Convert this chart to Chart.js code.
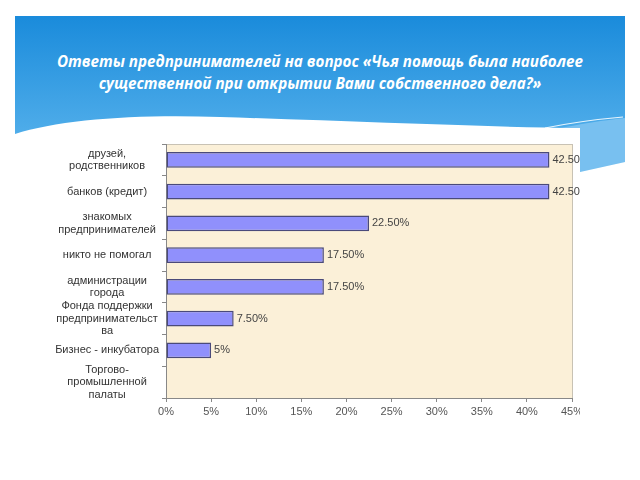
<!DOCTYPE html>
<html>
<head>
<meta charset="utf-8">
<script src="https://cdn.jsdelivr.net/npm/chart.js@4/dist/chart.umd.min.js"></script>
<style>
  html, body { margin: 0; padding: 0; background: #fff; }
  #page { position: relative; width: 640px; height: 480px; overflow: hidden; }
  #bg { position: absolute; left: 0; top: 0; }
  #title {
    position: absolute; left: 20px; top: 50px; width: 600px;
    text-align: center; color: #fff;
    font-family: "Open Sans", sans-serif; font-style: italic; font-weight: bold;
    font-size: 15.2px; line-height: 22px;
  }
  #box { position: absolute; left: 55px; top: 128px; width: 525px; height: 292px; background: #fff; }
</style>
</head>
<body>
<div id="page">
  <svg id="bg" width="640" height="480">
    <defs>
      <linearGradient id="sky" x1="0" y1="0" x2="0" y2="1">
        <stop offset="0" stop-color="#1a8bdb"/>
        <stop offset="1" stop-color="#62b9ef"/>
      </linearGradient>
    </defs>
    <rect x="15" y="16" width="610" height="160" fill="url(#sky)"/>
    <path d="M550 130 C 580 124, 605 120, 625 118 L 625 162 L 580 172 Z" fill="#78c0f0"/>
    <path d="M545 128 C 575 122, 600 119, 623 117" stroke="#e8f5fd" stroke-width="1.2" fill="none"/>
    <path d="M15 134 C 60 119, 140 114, 220 117 C 350 121, 480 127, 580 128 L 580 480 L 15 480 Z" fill="#ffffff"/>
    <path d="M580 172 L 625 162 L 625 480 L 580 480 Z" fill="#ffffff"/>
  </svg>
  <div id="title">Ответы предпринимателей на вопрос «Чья помощь была наиболее<br>существенной при открытии Вами собственного дела?»</div>
  <div id="box"><canvas id="chart" width="525" height="292"></canvas></div>
</div>
<script>
const categories = [
  ['друзей,', 'родственников'],
  'банков (кредит)',
  ['знакомых', 'предпринимателей'],
  'никто не помогал',
  ['администрации', 'города'],
  ['Фонда поддержки', 'предпринимательст', 'ва'],
  'Бизнес - инкубатора',
  ['Торгово-', 'промышленной', 'палаты']
];
const shares = [42.5, 42.5, 22.5, 17.5, 17.5, 7.5, 5, 0];
const xTicks = [0, 5, 10, 15, 20, 25, 30, 35, 40, 45];

function pct(v) {
  return Number.isInteger(v) ? v + '%' : v.toFixed(2) + '%';
}

const plotBackground = {
  id: 'plotBackground',
  beforeDraw(chart) {
    const { ctx, chartArea: a } = chart;
    ctx.save();
    ctx.fillStyle = '#fbf0d8';
    ctx.fillRect(a.left, a.top, a.right - a.left, a.bottom - a.top);
    ctx.strokeStyle = '#c8c2b4';
    ctx.lineWidth = 1;
    ctx.strokeRect(a.left + 0.5, a.top + 0.5, a.right - a.left, a.bottom - a.top);
    ctx.restore();
  }
};

const valueLabels = {
  id: 'valueLabels',
  afterDatasetsDraw(chart) {
    const { ctx } = chart;
    const meta = chart.getDatasetMeta(0);
    ctx.save();
    ctx.font = '11px "Liberation Sans", Arial, sans-serif';
    ctx.fillStyle = '#444';
    ctx.textBaseline = 'middle';
    ctx.textAlign = 'left';
    meta.data.forEach((bar, i) => {
      const v = shares[i];
      if (!v) return;
      ctx.fillText(pct(v), bar.x + 3, bar.y);
    });
    ctx.restore();
  }
};

Chart.defaults.font.family = '"Liberation Sans", Arial, sans-serif';
Chart.defaults.font.size = 11;

new Chart(document.getElementById('chart'), {
  type: 'bar',
  data: {
    labels: categories,
    datasets: [{
      data: shares,
      backgroundColor: '#9090fc',
      borderColor: '#4a4a7a',
      borderWidth: 1.5,
      borderSkipped: false,
      barPercentage: 0.5,
      categoryPercentage: 1
    }]
  },
  options: {
    indexAxis: 'y',
    responsive: false,
    animation: false,
    layout: { padding: { top: 16, right: 8, left: 0, bottom: 0 } },
    plugins: {
      legend: { display: false },
      tooltip: { enabled: false }
    },
    scales: {
      x: {
        min: 0,
        max: 45,
        afterBuildTicks(axis) {
          axis.ticks = xTicks.map(v => ({ value: v }));
        },
        afterFit(axis) {
          axis.paddingLeft = 0;
          axis.paddingRight = 0;
          axis.height = 22;
        },
        ticks: {
          color: '#555',
          padding: 3,
          maxRotation: 0,
          callback: v => v + '%'
        },
        grid: { drawOnChartArea: false, tickLength: 4, color: '#888' },
        border: { color: '#888' }
      },
      y: {
        afterFit(axis) {
          axis.width = 111;
          axis.paddingTop = 0;
          axis.paddingBottom = 0;
        },
        ticks: {
          color: '#333',
          crossAlign: 'center',
          padding: 3,
          font: { lineHeight: 1.15 },
          autoSkip: false
        },
        grid: { drawOnChartArea: false, tickLength: 4, offset: true, color: '#888' },
        border: { color: '#888' }
      }
    }
  },
  plugins: [plotBackground, valueLabels]
});
</script>
</body>
</html>
